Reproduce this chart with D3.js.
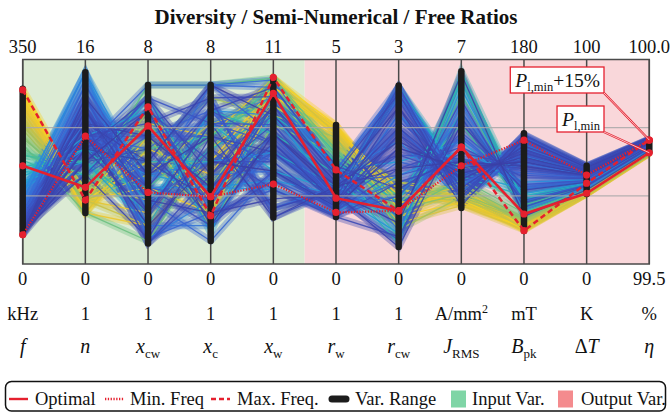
<!DOCTYPE html>
<html>

<head>
    <meta charset="UTF-8">
    <title>Diversity / Semi-Numerical / Free Ratios</title>
    <style>
        body { margin: 0; background: white; }
        text { font-family: 'Liberation Serif', 'DejaVu Serif', serif; fill: #111; }
    </style>
</head>

<body>
    <svg></svg>
    <script src="https://d3js.org/d3.v7.min.js"></script>
    <script>
        // ---- axes ----
        const axisKeys = ["f", "n", "xcw", "xc", "xw", "rw", "rcw", "J", "B", "dT", "eta"];
        const axisMin = [0, 0, 0, 0, 0, 0, 0, 0, 0, 0, 99.5];
        const axisMax = [350, 16, 8, 8, 11, 5, 3, 7, 180, 100, 100];
        const maxLabels = ["350", "16", "8", "8", "11", "5", "3", "7", "180", "100", "100.0"];
        const minLabels = ["0", "0", "0", "0", "0", "0", "0", "0", "0", "0", "99.5"];
        const units = ["kHz", "1", "1", "1", "1", "1", "1", "A/mm2", "mT", "K", "%"];
        // [prefix, italic symbol, subscript]
        const names = [["", "f", ""], ["", "n", ""], ["", "x", "cw"], ["", "x", "c"], ["", "x", "w"],
        ["", "r", "w"], ["", "r", "cw"], ["", "J", "RMS"], ["", "B", "pk"], ["Δ", "T", ""], ["", "η", ""]];
        const inputCount = 5;
        const gridLevels = [1 / 3, 2 / 3];

        // ---- variable ranges (black bars) ----
        const rangeLo = [50, 4, 0.8, 0.9, 2.5, 1.15, 0.25, 1.92, 29, 34.2, 99.774];
        const rangeHi = [300, 15, 7, 7, 10, 3.4, 2.62, 6.6, 115, 48, 99.801];

        // ---- highlighted designs ----
        const optimal = [168, 6, 5.4, 2.63, 9.18, 1.61, 0.78, 4.0, 44, 34.6, 99.772];
        const minFreq = [50, 10, 2.8, 2.63, 4.3, 1.26, 0.78, 3.36, 109, 43.5, 99.803];
        const maxFreq = [298, 5, 6.15, 1.89, 10.04, 2.30, 0.78, 4.0, 29.3, 39.5, 99.803];

        // ---- sampled designs: f, n, xcw, xc, xw, rw, rcw, J, B, dT, eta ----
        const designs = [
            [300, 5, 5.5, 2.5, 10.0, 3.4, 0.9, 2.4, 30, 34.2, 99.771],
            [295, 4, 5.0, 3.0, 9.0, 3.3, 1.1, 2.2, 31, 34.4, 99.771],
            [290, 5, 4.0, 4.0, 9.5, 3.2, 0.7, 2.1, 31, 34.5, 99.772],
            [285, 4, 4.5, 3.5, 9.5, 3.3, 0.9, 2.3, 32, 34.6, 99.772],
            [280, 5, 3.0, 2.0, 9.5, 3.4, 0.8, 2.5, 33, 34.7, 99.772],
            [275, 4, 1.5, 5.5, 9.0, 3.3, 1.0, 2.6, 33, 34.8, 99.773],
            [270, 5, 2.0, 4.5, 9.0, 3.1, 1.0, 2.1, 34, 34.9, 99.773],
            [265, 6, 5.5, 5.0, 10.0, 3.2, 1.1, 2.0, 35, 35.0, 99.774],
            [260, 5, 6.0, 2.0, 8.5, 3.0, 0.6, 2.0, 30, 34.3, 99.770],
            [255, 4, 5.0, 1.8, 10.0, 3.2, 0.7, 2.5, 31, 34.4, 99.771],
            [250, 5, 1.5, 4.0, 8.5, 3.0, 1.2, 2.3, 32, 34.6, 99.773],
            [245, 6, 2.5, 3.5, 9.5, 2.9, 0.8, 2.8, 36, 35.3, 99.775],
            [240, 5, 3.5, 5.5, 8.5, 2.9, 1.1, 2.2, 38, 35.5, 99.775],
            [235, 6, 4.0, 2.0, 9.0, 2.9, 1.2, 2.6, 37, 35.4, 99.775],
            [230, 5, 4.5, 6.5, 8.0, 3.1, 0.5, 2.3, 39, 35.6, 99.774],
            [220, 5, 6.0, 3.0, 9.0, 2.8, 0.8, 2.4, 40, 35.8, 99.776],
            [215, 6, 5.0, 1.5, 7.5, 2.7, 0.95, 2.7, 41, 36.0, 99.777],
            [205, 4, 0.9, 4.5, 10.0, 2.8, 0.75, 2.9, 45, 36.6, 99.778],
            [198, 6, 7.0, 7.0, 10.0, 2.6, 0.9, 3.5, 48, 37.2, 99.780],
            [188, 7, 3.0, 5.0, 9.0, 2.5, 0.6, 5.8, 52, 37.6, 99.782],
            [185, 8, 4.5, 5.0, 9.5, 2.7, 1.0, 4.8, 50, 37.4, 99.781],
            [178, 6, 5.5, 3.0, 8.5, 2.4, 0.4, 6.4, 46, 36.8, 99.778],
            [168, 8, 2.0, 6.0, 7.0, 2.2, 0.3, 6.6, 54, 38.0, 99.783],
            [160, 9, 2.5, 4.5, 8.0, 2.5, 0.9, 6.2, 57, 38.8, 99.785],
            [158, 7, 6.5, 2.5, 8.0, 1.75, 2.6, 3.0, 60, 39.2, 99.786],
            [150, 9, 4.0, 4.0, 6.0, 1.9, 0.7, 5.2, 56, 38.5, 99.784],
            [142, 8, 1.5, 5.5, 5.0, 1.8, 2.5, 3.1, 66, 40.1, 99.788],
            [135, 10, 6.0, 1.2, 9.5, 2.3, 1.5, 4.2, 62, 39.5, 99.787],
            [128, 9, 3.5, 3.0, 4.5, 1.7, 0.45, 6.0, 50, 37.4, 99.781],
            [122, 15, 3.0, 3.0, 4.0, 1.25, 1.3, 3.9, 72, 41.2, 99.791],
            [118, 15, 2.0, 6.0, 8.0, 1.7, 2.6, 2.5, 95, 45.0, 99.798],
            [112, 14, 3.5, 4.0, 6.0, 1.5, 2.2, 3.0, 105, 46.5, 99.801],
            [108, 15, 1.0, 2.5, 9.0, 2.2, 1.8, 2.2, 114, 48.0, 99.805],
            [104, 11, 5.0, 5.5, 9.0, 2.4, 0.5, 5.5, 48, 37.0, 99.780],
            [100, 13, 1.5, 1.5, 6.5, 1.6, 2.45, 2.7, 102, 46.0, 99.801],
            [96, 14, 2.5, 3.5, 5.0, 1.4, 1.0, 5.0, 55, 38.8, 99.785],
            [94, 13, 3.0, 7.0, 9.9, 2.3, 2.5, 2.8, 88, 43.8, 99.796],
            [92, 10, 4.0, 7.0, 9.5, 2.3, 2.6, 2.7, 90, 44.3, 99.797],
            [90, 10, 4.5, 6.5, 3.0, 1.9, 0.9, 4.3, 68, 40.5, 99.789],
            [88, 12, 2.5, 0.9, 5.0, 1.4, 1.2, 3.4, 80, 42.4, 99.793],
            [87, 12, 1.0, 2.0, 6.0, 1.7, 0.8, 4.4, 66, 40.5, 99.789],
            [86, 9, 7.0, 7.0, 7.0, 1.6, 2.0, 2.6, 112, 47.6, 99.804],
            [84, 9, 5.0, 6.0, 4.5, 1.4, 2.2, 2.3, 108, 47.0, 99.803],
            [83, 14, 3.0, 2.5, 7.0, 1.5, 1.5, 3.0, 96, 45.2, 99.799],
            [81, 11, 1.2, 4.5, 3.0, 1.8, 2.6, 2.1, 100, 45.8, 99.800],
            [79, 7, 5.0, 5.0, 5.5, 1.3, 2.0, 2.5, 106, 46.8, 99.802],
            [77, 13, 2.5, 4.0, 8.0, 2.0, 1.3, 3.6, 78, 42.0, 99.793],
            [76, 8, 6.5, 2.0, 4.0, 1.2, 1.0, 4.5, 70, 40.8, 99.790],
            [74, 13, 2.0, 5.5, 6.5, 1.6, 1.6, 3.6, 82, 42.8, 99.794],
            [73, 8, 6.5, 5.5, 7.5, 1.8, 2.5, 2.8, 96, 45.2, 99.799],
            [72, 11, 0.8, 3.0, 6.0, 1.6, 0.35, 5.2, 56, 38.6, 99.785],
            [71, 10, 3.5, 6.0, 6.5, 1.6, 1.7, 3.2, 92, 44.6, 99.798],
            [70, 10, 5.0, 3.0, 8.5, 1.9, 2.4, 2.4, 108, 47.0, 99.803],
            [69, 12, 3.5, 6.5, 2.5, 1.8, 2.1, 3.1, 92, 44.5, 99.797],
            [68, 9, 6.0, 4.0, 5.5, 1.3, 1.4, 4.0, 76, 41.8, 99.792],
            [67, 12, 3.0, 1.5, 5.0, 1.3, 1.9, 2.4, 110, 47.4, 99.804],
            [66, 7, 6.0, 2.5, 8.5, 2.2, 0.7, 5.6, 50, 38.0, 99.783],
            [65, 12, 2.0, 4.5, 4.0, 1.15, 1.2, 3.5, 84, 43.0, 99.794],
            [64, 11, 0.8, 3.5, 7.5, 1.6, 2.6, 2.3, 113, 47.8, 99.805],
            [63, 10, 5.5, 6.5, 9.0, 2.1, 1.6, 3.0, 100, 45.8, 99.800],
            [62, 8, 4.5, 1.8, 4.5, 1.15, 0.4, 5.0, 54, 38.2, 99.784],
            [61, 10, 3.0, 6.0, 9.5, 2.4, 1.1, 3.8, 86, 43.4, 99.795],
            [60, 9, 6.5, 3.5, 8.5, 2.2, 2.5, 2.2, 114, 48.0, 99.806],
            [59, 9, 2.0, 5.5, 3.0, 1.8, 2.0, 2.9, 101, 46.0, 99.801],
            [58, 7, 1.0, 5.0, 6.0, 1.5, 1.9, 2.9, 98, 45.4, 99.799],
            [57, 11, 4.0, 2.5, 6.5, 1.5, 2.3, 2.6, 104, 46.5, 99.802],
            [55, 12, 2.5, 2.0, 3.5, 1.7, 0.25, 4.8, 65, 40.0, 99.788],
            [54, 13, 3.5, 5.0, 2.5, 1.9, 1.8, 3.1, 94, 44.8, 99.798],
            [53, 11, 5.0, 3.0, 7.0, 1.9, 1.4, 3.5, 86, 43.5, 99.795],
            [52, 9, 4.0, 7.0, 8.0, 2.0, 2.3, 2.0, 110, 47.2, 99.803],
            [50, 10, 1.5, 4.0, 5.0, 1.4, 1.7, 3.3, 90, 44.0, 99.797],
            [50, 8, 6.0, 1.5, 7.0, 1.75, 0.6, 6.5, 42, 36.2, 99.777]
        ];

        // parula-like colour ramp, low f (blue) to high f (yellow)
        const ramp = ["#3b3fa5", "#3d5cd0", "#2f84e0", "#1aa6d2", "#2ebaa8", "#6cc17e", "#b3c052", "#ecc232", "#f7d420"];
        const red = "#e5202e";

        // ---- layout ----
        const width = 671, height = 412;
        const plot = { left: 22.7, right: 649.3, top: 59.5, bottom: 264 };

        const svg = d3.select("svg")
            .attr("width", width)
            .attr("height", height);

        const x = d3.scalePoint().domain(axisKeys).range([plot.left, plot.right]);
        const y = axisKeys.map((k, i) => d3.scaleLinear()
            .domain([axisMin[i], axisMax[i]])
            .range([plot.bottom, plot.top]));
        const frac = d3.scaleLinear().domain([0, 1]).range([plot.bottom, plot.top]);
        const color = d3.scaleSequential(d3.interpolateRgbBasis(ramp)).domain([50, 300]);

        const line = d3.line();
        function rowPath(row) {
            return line(row.map((v, i) => [x(axisKeys[i]), y[i](v)]));
        }

        // input / output backgrounds
        const split = (x(axisKeys[inputCount - 1]) + x(axisKeys[inputCount])) / 2;
        svg.append("rect")
            .attr("x", plot.left).attr("y", plot.top)
            .attr("width", split - plot.left).attr("height", plot.bottom - plot.top)
            .attr("fill", "#dcebd4");
        svg.append("rect")
            .attr("x", split).attr("y", plot.top)
            .attr("width", plot.right - split).attr("height", plot.bottom - plot.top)
            .attr("fill", "#f9d7da");

        // design bundle, yellow (high f) drawn first
        const sorted = designs.slice().sort((a, b) => b[0] - a[0]);
        const bundle = svg.append("g").attr("fill", "none");
        bundle.selectAll(".halo")
            .data(sorted)
            .enter().append("path")
            .attr("d", rowPath)
            .attr("stroke", d => color(d[0]))
            .attr("stroke-width", 7)
            .attr("stroke-opacity", 0.36);
        bundle.selectAll(".thin")
            .data(sorted)
            .enter().append("path")
            .attr("d", rowPath)
            .attr("stroke", d => color(d[0]))
            .attr("stroke-width", 1.3)
            .attr("stroke-opacity", 0.9);

        // grid lines
        svg.append("g").selectAll("line")
            .data(gridLevels)
            .enter().append("line")
            .attr("x1", plot.left).attr("x2", plot.right)
            .attr("y1", d => frac(d)).attr("y2", d => frac(d))
            .attr("stroke", "#a8a8a8")
            .attr("stroke-width", 1.2)
            .attr("stroke-opacity", 0.85);

        // axis lines and frame
        svg.append("g").selectAll("line")
            .data(axisKeys)
            .enter().append("line")
            .attr("x1", d => x(d)).attr("x2", d => x(d))
            .attr("y1", plot.top).attr("y2", plot.bottom)
            .attr("stroke", "#4a4a4a")
            .attr("stroke-width", 1.5);
        svg.append("rect")
            .attr("x", plot.left).attr("y", plot.top)
            .attr("width", plot.right - plot.left).attr("height", plot.bottom - plot.top)
            .attr("fill", "none")
            .attr("stroke", "#4a4a4a")
            .attr("stroke-width", 1.5);

        // variable range bars
        svg.append("g").selectAll("line")
            .data(axisKeys)
            .enter().append("line")
            .attr("x1", d => x(d)).attr("x2", d => x(d))
            .attr("y1", (d, i) => y[i](rangeLo[i]))
            .attr("y2", (d, i) => y[i](rangeHi[i]))
            .attr("stroke", "#1c1c1c")
            .attr("stroke-width", 6.5)
            .attr("stroke-linecap", "round");

        // highlighted designs
        const highlights = [
            { row: minFreq, dash: "1.3,1.5", width: 2.2 },
            { row: maxFreq, dash: "5.5,3.5", width: 2.5 },
            { row: optimal, dash: null, width: 2.6 }
        ];
        svg.append("g").attr("fill", "none").selectAll("path")
            .data(highlights)
            .enter().append("path")
            .attr("d", d => rowPath(d.row))
            .attr("stroke", red)
            .attr("stroke-width", d => d.width)
            .attr("stroke-dasharray", d => d.dash);
        highlights.forEach(h => {
            svg.append("g").selectAll("circle")
                .data(h.row)
                .enter().append("circle")
                .attr("cx", (v, i) => x(axisKeys[i]))
                .attr("cy", (v, i) => y[i](v))
                .attr("r", 3.6)
                .attr("fill", red);
        });

        // title
        svg.append("text")
            .attr("x", (plot.left + plot.right) / 2).attr("y", 24)
            .attr("text-anchor", "middle")
            .style("font-size", "21px").style("font-weight", "bold")
            .text("Diversity / Semi-Numerical / Free Ratios");

        // tick labels
        svg.append("g").selectAll("text")
            .data(maxLabels)
            .enter().append("text")
            .attr("x", (d, i) => x(axisKeys[i])).attr("y", 53)
            .attr("text-anchor", "middle")
            .style("font-size", "18.5px")
            .text(d => d);
        svg.append("g").selectAll("text")
            .data(minLabels)
            .enter().append("text")
            .attr("x", (d, i) => x(axisKeys[i])).attr("y", 284.5)
            .attr("text-anchor", "middle")
            .style("font-size", "18.5px")
            .text(d => d);

        // units
        const unitText = svg.append("g").selectAll("text")
            .data(units)
            .enter().append("text")
            .attr("x", (d, i) => x(axisKeys[i])).attr("y", 319.5)
            .attr("text-anchor", "middle")
            .style("font-size", "18.5px");
        unitText.each(function (d) {
            const t = d3.select(this);
            if (d.endsWith("2")) {
                t.append("tspan").text(d.slice(0, -1));
                t.append("tspan").attr("dy", -7).style("font-size", "12px").text("2");
            } else {
                t.text(d);
            }
        });

        // variable names
        const nameText = svg.append("g").selectAll("text")
            .data(names)
            .enter().append("text")
            .attr("x", (d, i) => x(axisKeys[i])).attr("y", 352.5)
            .attr("text-anchor", "middle")
            .style("font-size", "20px");
        nameText.each(function (d) {
            const t = d3.select(this);
            if (d[0]) t.append("tspan").text(d[0]);
            t.append("tspan").style("font-style", "italic").text(d[1]);
            if (d[2]) t.append("tspan").attr("dy", 5).style("font-size", "13px").text(d[2]);
        });

        // annotations for the loss levels
        const notes = [
            { sub: "l,min", extra: "+15%", baseline: 87, target: maxFreq },
            { sub: "l,min", extra: "", baseline: 126, target: optimal }
        ];
        const last = axisKeys.length - 1;
        notes.forEach(n => {
            const g = svg.append("g");
            const box = g.append("rect");
            const t = g.append("text")
                .attr("x", 600).attr("y", n.baseline)
                .attr("text-anchor", "end")
                .style("font-size", "19.5px");
            t.append("tspan").style("font-style", "italic").text("P");
            t.append("tspan").attr("dy", 4).style("font-size", "12.5px").text(n.sub);
            if (n.extra) t.append("tspan").attr("dy", -4).text(n.extra);
            const bb = t.node().getBBox();
            const bx = bb.x - 4, by = n.baseline - 20, bw = 604 - bx, bh = 26;
            box.attr("x", bx).attr("y", by).attr("width", bw).attr("height", bh)
                .attr("fill", "white").attr("stroke", red).attr("stroke-width", 1.3);
            const tx = x(axisKeys[last]), ty = y[last](n.target[last]);
            svg.append("line")
                .attr("x1", bx + bw).attr("y1", by + bh).attr("x2", tx).attr("y2", ty)
                .attr("stroke", red).attr("stroke-width", 2.2);
            svg.append("line")
                .attr("x1", bx + bw).attr("y1", by + bh).attr("x2", tx).attr("y2", ty)
                .attr("stroke", "white").attr("stroke-width", 0.7);
        });

        // legend
        const legendY = 399;
        svg.append("rect")
            .attr("x", 5.5).attr("y", 381.5)
            .attr("width", 660).attr("height", 29.5)
            .attr("rx", 6)
            .attr("fill", "white").attr("stroke", "#111").attr("stroke-width", 1.5);
        const legendItems = [
            { label: "Optimal", type: "line", dash: null, x: 9, tx: 35 },
            { label: "Min. Freq", type: "line", dash: "1.3,1.5", x: 105, tx: 130 },
            { label: "Max. Freq.", type: "line", dash: "5,3", x: 211, tx: 237 },
            { label: "Var. Range", type: "bar", x: 332, tx: 355 },
            { label: "Input Var.", type: "box", fill: "#7fd5a6", x: 451, tx: 472 },
            { label: "Output Var.", type: "box", fill: "#f48b8e", x: 558, tx: 581 }
        ];
        legendItems.forEach(it => {
            if (it.type === "line") {
                svg.append("line")
                    .attr("x1", it.x).attr("x2", it.x + 19)
                    .attr("y1", legendY).attr("y2", legendY)
                    .attr("stroke", red).attr("stroke-width", 2.4)
                    .attr("stroke-dasharray", it.dash);
            } else if (it.type === "bar") {
                svg.append("line")
                    .attr("x1", it.x).attr("x2", it.x + 14)
                    .attr("y1", legendY).attr("y2", legendY)
                    .attr("stroke", "#1c1c1c").attr("stroke-width", 7)
                    .attr("stroke-linecap", "round");
            } else {
                svg.append("rect")
                    .attr("x", it.x).attr("y", legendY - 8.5)
                    .attr("width", 15).attr("height", 17)
                    .attr("fill", it.fill);
            }
            svg.append("text")
                .attr("x", it.tx).attr("y", legendY + 6)
                .style("font-size", "18.5px")
                .text(it.label);
        });
    </script>
</body>

</html>
